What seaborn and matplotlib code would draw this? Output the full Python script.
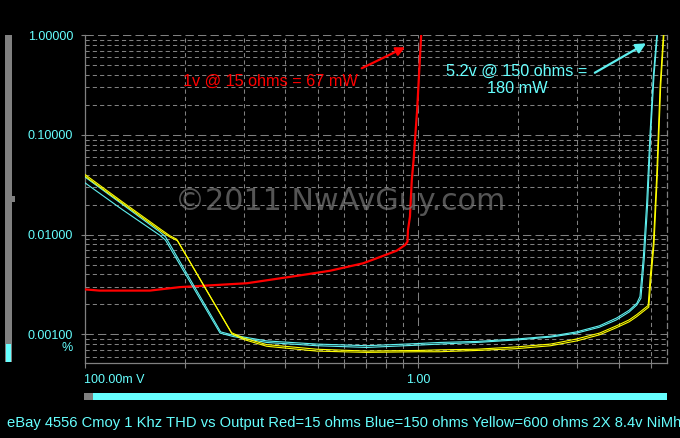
import numpy as np
import pandas as pd
import matplotlib
matplotlib.use("Agg")
import matplotlib.pyplot as plt
from matplotlib.patches import Rectangle
from matplotlib.ticker import LogLocator, NullFormatter
import seaborn as sns

# =====================================================
# DATA  (THD % vs output voltage)
# =====================================================

red_v = [0.1, 0.111, 0.157, 0.193, 0.307, 0.443, 0.545, 0.685, 0.769,
         0.863, 0.914, 0.930, 0.933, 0.946, 0.958, 0.970, 0.994, 1.022]
red_thd = [0.00283, 0.00275, 0.00275, 0.00298, 0.00326, 0.00391, 0.00435,
           0.00517, 0.00597, 0.00691, 0.00788, 0.0085, 0.0111, 0.0152,
           0.0354, 0.0561, 0.178, 1.0]

cyan_a_v = [0.1, 0.13, 0.168, 0.175, 0.256, 0.28, 0.352, 0.497, 0.702,
            1.0, 1.16, 1.5, 1.98, 2.5, 2.99, 3.5, 3.94, 4.3, 4.53, 4.63,
            4.74, 4.85, 4.97, 5.08, 5.20]
cyan_a_thd = [0.0382, 0.0201, 0.0107, 0.0095, 0.00106, 0.00098, 0.00086,
              0.00080, 0.00077, 0.00081, 0.00083, 0.00085, 0.00090,
              0.00096, 0.00106, 0.00122, 0.00146, 0.00175, 0.00205,
              0.0024, 0.0060, 0.0207, 0.112, 0.40, 1.0]

cyan_b_v = [0.1, 0.13, 0.168, 0.175, 0.255, 0.28, 0.352, 0.497, 0.702,
            1.0, 1.16, 1.5, 1.98, 2.5, 2.99, 3.5, 3.94, 4.3, 4.53, 4.66,
            4.77, 4.88, 4.99, 5.10, 5.22]
cyan_b_thd = [0.0334, 0.0178, 0.0099, 0.0088, 0.00103, 0.00095, 0.00083,
              0.00077, 0.00074, 0.00078, 0.00080, 0.00083, 0.00088,
              0.00094, 0.00103, 0.00118, 0.00140, 0.00168, 0.00197,
              0.0023, 0.0058, 0.0200, 0.108, 0.39, 1.0]

yellow_a_v = [0.1, 0.13, 0.17, 0.18, 0.189, 0.276, 0.30, 0.352, 0.497,
              0.702, 1.0, 1.16, 1.5, 1.98, 2.5, 2.99, 3.5, 3.94, 4.3,
              4.53, 4.9, 4.97, 5.08, 5.20, 5.32, 5.44]
yellow_a_thd = [0.0405, 0.0213, 0.0112, 0.0098, 0.0090, 0.00104, 0.00092,
                0.00079, 0.00071, 0.00068, 0.00069, 0.00070, 0.00071,
                0.00075, 0.00080, 0.00090, 0.00103, 0.00122, 0.00140,
                0.00158, 0.00195, 0.0038, 0.0082, 0.041, 0.305, 1.0]

yellow_b_v = [0.1, 0.13, 0.17, 0.18, 0.19, 0.277, 0.30, 0.352, 0.497,
              0.702, 1.0, 1.16, 1.5, 1.98, 2.5, 2.99, 3.5, 3.94, 4.3,
              4.53, 4.92, 4.99, 5.10, 5.22, 5.34, 5.46]
yellow_b_thd = [0.0390, 0.0206, 0.0108, 0.0095, 0.0087, 0.00101, 0.00089,
                0.00076, 0.00068, 0.00066, 0.00067, 0.00067, 0.00069,
                0.00072, 0.00077, 0.00086, 0.00099, 0.00117, 0.00134,
                0.00151, 0.00188, 0.0035, 0.0080, 0.040, 0.30, 1.0]

y_ticks = [0.001, 0.01, 0.1, 1.0]
y_labels = ["0.00100", "0.01000", "0.10000", "1.00000"]
x_ticks = [0.1, 1.0]
x_labels = ["100.00m V", "1.00"]

title = ("eBay 4556 Cmoy 1 Khz THD vs Output Red=15 ohms Blue=150 ohms "
         "Yellow=600 ohms 2X 8.4v NiMh")

# =====================================================
# STYLE
# =====================================================

CYAN_TXT = "#66ffff"
CYAN_LN = "#5ff0f0"
GRAY = "#808080"

sns.set_style("dark", rc={
    "figure.facecolor": "black",
    "axes.facecolor": "black",
    "axes.edgecolor": GRAY,
    "savefig.facecolor": "black",
})
plt.rcParams["font.family"] = ["Liberation Sans", "DejaVu Sans"]

W, H = 680, 438
fig = plt.figure(figsize=(W / 100, H / 100), dpi=100)
ax = fig.add_axes([84.5 / W, 1 - 363.3 / H, (667 - 84.5) / W, (363.3 - 35.3) / H])

# =====================================================
# CURVES
# =====================================================

traces = [
    (red_v, red_thd, "#ff0000", 1.6),
    (cyan_a_v, cyan_a_thd, CYAN_LN, 0.8),
    (cyan_b_v, cyan_b_thd, CYAN_LN, 0.8),
    (yellow_a_v, yellow_a_thd, "#ffff00", 0.8),
    (yellow_b_v, yellow_b_thd, "#ffff00", 0.8),
]
for xs, ys, col, lw in traces:
    d = pd.DataFrame({"v": xs, "thd": ys})
    sns.lineplot(data=d, x="v", y="thd", color=col, linewidth=lw,
                 sort=False, estimator=None, ax=ax, zorder=3)

ax.set_xscale("log")
ax.set_yscale("log")
ax.set_xlim(0.1, 5.58)
ax.set_ylim(0.000513, 1.0)
ax.set_xlabel("")
ax.set_ylabel("")

# ticks / grid
ax.set_yticks(y_ticks, labels=y_labels)
ax.set_xticks(x_ticks, labels=x_labels)
ax.xaxis.set_minor_locator(LogLocator(base=10, subs=np.arange(2, 10)))
ax.yaxis.set_minor_locator(LogLocator(base=10, subs=np.arange(2, 10)))
ax.xaxis.set_minor_formatter(NullFormatter())
ax.yaxis.set_minor_formatter(NullFormatter())

ax.tick_params(axis="y", which="major", length=3, width=0.8, color=GRAY,
               labelcolor=CYAN_TXT, labelsize=9, pad=5.2, left=True)
ax.tick_params(axis="y", which="minor", length=0)
ax.tick_params(axis="x", which="both", length=3.6, width=0.8, color=GRAY,
               labelcolor=CYAN_TXT, labelsize=9, pad=3.8, bottom=True)
ax.get_xticklabels()[0].set_ha("left")

ax.grid(True, which="major", color=GRAY, linestyle=(0, (8, 4)), linewidth=0.75)
ax.grid(True, which="minor", color=GRAY, linestyle=(0, (4, 3)), linewidth=0.75)
ax.set_axisbelow(True)

ax.spines["top"].set_visible(False)
ax.spines["right"].set_linestyle((0, (4, 3)))
for s in ["left", "bottom", "right"]:
    ax.spines[s].set_color(GRAY)
    ax.spines[s].set_linewidth(0.9)

# =====================================================
# ANNOTATIONS
# =====================================================

fig.text(340 / W, 1 - 210 / H, "\u00a92011 NwAvGuy.com", ha="center",
         va="baseline", fontsize=21.7, color="#7a7a7a", alpha=0.7,
         family="DejaVu Sans", zorder=2)

fig.text(183 / W, 1 - 81.5 / H, "1v @ 15 ohms = 67 mW", color="#ff0000",
         fontsize=11.7, ha="left", va="center")
ax.annotate("", xy=(0.914, 0.758), xytext=(0.678, 0.467),
            arrowprops=dict(arrowstyle="-|>", color="#ff0000", lw=1.6,
                            mutation_scale=13, shrinkA=0, shrinkB=0))

fig.text(517 / W, 1 - 79.5 / H, "5.2v @ 150 ohms =\n180 mW", color=CYAN_TXT,
         fontsize=11.7, ha="center", va="center", multialignment="center",
         linespacing=1.17)
ax.annotate("", xy=(4.83, 0.831), xytext=(3.39, 0.421),
            arrowprops=dict(arrowstyle="-|>", color=CYAN_LN, lw=1.6,
                            mutation_scale=15, shrinkA=0, shrinkB=0))

fig.text(73 / W, 1 - 348.3 / H, "%", color=CYAN_TXT, fontsize=9,
         ha="right", va="center")

fig.text(6.7 / W, 1 - 427.3 / H, title, color=CYAN_TXT, fontsize=10.6,
         ha="left", va="baseline")

# =====================================================
# SLIDERS (window chrome)
# =====================================================

def px_rect(x0, y0, x1, y1, col):
    fig.add_artist(Rectangle((x0 / W, 1 - y1 / H), (x1 - x0) / W,
                             (y1 - y0) / H, transform=fig.transFigure,
                             facecolor=col, edgecolor="none"))

px_rect(84, 392.7, 667, 400, CYAN_TXT)
px_rect(84, 392.7, 93.3, 400, GRAY)
px_rect(5, 34.7, 11.7, 362.3, GRAY)
px_rect(5.7, 343.5, 11.0, 361.6, CYAN_TXT)
px_rect(11.7, 196.5, 14.5, 202.5, GRAY)

fig.savefig("out.png", dpi=100, facecolor="black")
